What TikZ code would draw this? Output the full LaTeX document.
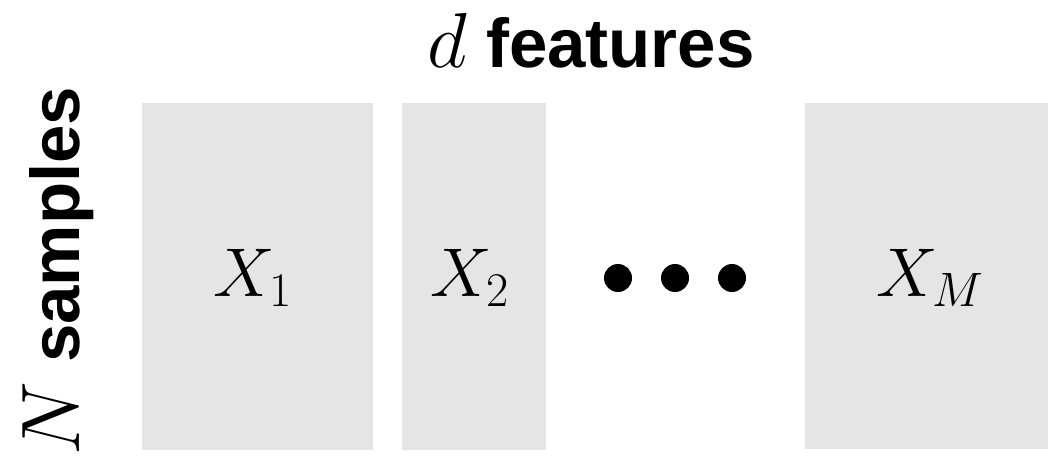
\RequirePackage{fix-cm}
\documentclass[tikz,border=0pt]{standalone}
\usepackage{fontspec}
\setmainfont{Liberation Sans}
\begin{document}
\begin{tikzpicture}[x=1pt,y=-1pt,
  block/.style={fill=black!10, draw=none},
  lbl/.style={anchor=base, inner sep=0pt, font=\fontsize{69}{80}\selectfont},
  hdr/.style={anchor=base west, inner sep=0pt, font=\fontsize{69}{80}\selectfont},
  dotc/.style={circle, fill=black, inner sep=0pt, minimum size=28pt}]
\useasboundingbox (0,0) rectangle (1048,457);
\fill[block] (142,103) rectangle (373,450);
\fill[block] (402,103) rectangle (546,450);
\fill[block] (805,103) rectangle (1048,449);
\node[lbl] (x1) at (253,296) {$X_1$};
\node[lbl] (x2) at (470,296) {$X_2$};
\node[lbl] (xm) at (930,296) {$X_M$};
\node[dotc] (d1) at (618,278) {};
\node[dotc] (d2) at (675,278) {};
\node[dotc] (d3) at (732,278) {};
\node[hdr] (title) at (427,68) {{\fontsize{78}{80}\selectfont$d$} \textbf{features}};
\node[hdr, rotate=90] (side) at (79,456) {{\fontsize{83}{80}\selectfont$N$} \textbf{samples}};
\end{tikzpicture}
\end{document}
